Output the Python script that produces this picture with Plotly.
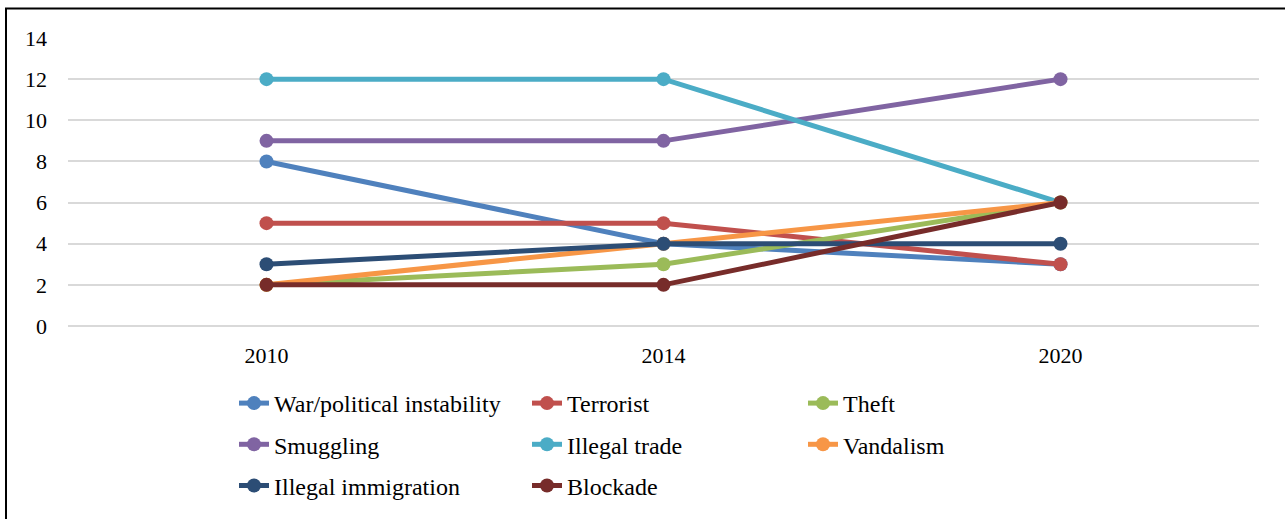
import plotly.graph_objects as go

years = ["2010", "2014", "2020"]
war = [8, 4, 3]
terrorist = [5, 5, 3]
theft = [2, 3, 6]
smuggling = [9, 9, 12]
illegal_trade = [12, 12, 6]
vandalism = [2, 4, 6]
illegal_immigration = [3, 4, 4]
blockade = [2, 2, 6]

series = [
    ("War/political instability", war, "#4F81BD", "legend"),
    ("Terrorist", terrorist, "#C0504D", "legend2"),
    ("Theft", theft, "#9BBB59", "legend3"),
    ("Smuggling", smuggling, "#8064A2", "legend"),
    ("Illegal trade", illegal_trade, "#4BACC6", "legend2"),
    ("Vandalism", vandalism, "#F79646", "legend3"),
    ("Illegal immigration", illegal_immigration, "#2C4D75", "legend"),
    ("Blockade", blockade, "#772C2A", "legend2"),
]

FONT = "Times New Roman, Liberation Serif, DejaVu Serif, serif"
FS = 22
LFS = 24

fig = go.Figure()
for i, (name, vals, col, lg) in enumerate(series):
    fig.add_trace(go.Scatter(
        x=years, y=vals, name=name, mode="lines+markers",
        line=dict(color=col, width=5),
        marker=dict(color=col, size=14),
        legend=lg, legendgroup=name,
    ))

W, H = 1285, 519
left, right, top, bottom = 68, 1259, 37.5, 326

def leg(xpix):
    return dict(
        orientation="v", xref="container", yref="container",
        x=xpix / W, y=1 - 381 / H, xanchor="left", yanchor="top",
        font=dict(family=FONT, size=LFS, color="#000"),
        tracegroupgap=7, bgcolor="rgba(0,0,0,0)", itemwidth=30,
    )

fig.update_layout(
    width=W, height=H,
    margin=dict(l=left, r=W - right, t=top, b=H - bottom, autoexpand=False),
    plot_bgcolor="white", paper_bgcolor="white",
    font=dict(family=FONT, size=FS, color="#000"),
    showlegend=True,
    legend=leg(234),
    legend2=leg(527),
    legend3=leg(803),
    xaxis=dict(
        type="category", range=[-0.5, 2.5], showgrid=False,
        showline=False, zeroline=False, ticks="",
        tickfont=dict(family=FONT, size=FS, color="#000"),
        ticklabelstandoff=14, automargin=False, tickangle=0,
    ),
    yaxis=dict(
        range=[0, 14], dtick=2, tick0=0, showgrid=True,
        gridcolor="#D9D9D9", gridwidth=1.5, zeroline=True,
        zerolinecolor="#D9D9D9", zerolinewidth=1.5,
        showline=False, ticks="",
        tickfont=dict(family=FONT, size=FS, color="#000"),
        ticklabelstandoff=20, automargin=False,
    ),
)

pw = right - left
ph = bottom - top
fig.add_shape(
    type="rect", xref="paper", yref="paper",
    x0=(6 - left) / pw, x1=(W + 20 - left) / pw,
    y0=(bottom - (H + 20)) / ph, y1=(bottom - 8) / ph,
    line=dict(color="black", width=2), fillcolor="rgba(0,0,0,0)",
    layer="above",
)

fig.write_html("out.html")
